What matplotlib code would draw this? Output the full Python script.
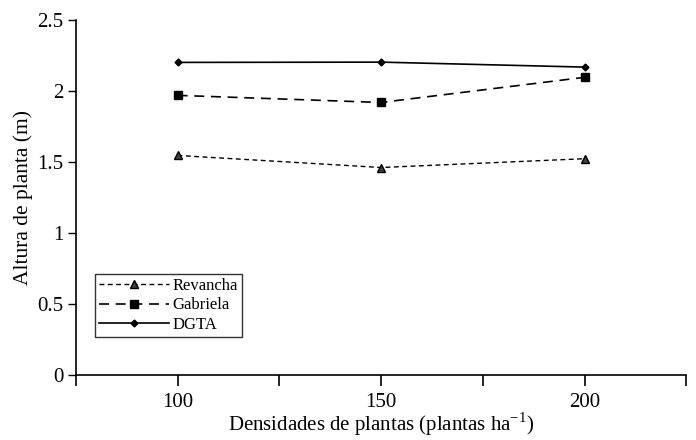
import numpy as np
import matplotlib.pyplot as plt
from matplotlib.ticker import MultipleLocator

plt.rcParams['font.family'] = ['Liberation Serif', 'DejaVu Serif']
plt.rcParams['mathtext.fontset'] = 'custom'
plt.rcParams['mathtext.rm'] = 'Liberation Serif'

densidades = [100, 150, 200]
revancha = [1.545, 1.460, 1.522]
gabriela = [1.968, 1.918, 2.095]
dgta = [2.200, 2.202, 2.167]

fig = plt.figure(figsize=(6.96, 4.40), dpi=100)
ax = fig.add_axes([0.109, 0.148, 0.877, 0.807])

ax.plot(densidades, revancha, color='black', lw=1.0, linestyle=(0, (3.5, 2.5)),
        marker='^', ms=5.5, mfc='#404040', mec='black', mew=1.0, label='Revancha')
ax.plot(densidades, gabriela, color='black', lw=1.2, linestyle=(0, (6, 4)),
        marker='s', ms=5.5, mfc='black', mec='black', label='Gabriela')
ax.plot(densidades, dgta, color='black', lw=1.2, linestyle='-',
        marker='D', ms=3.5, mfc='black', mec='black', label='DGTA')

ax.set_xlim(75, 225)
ax.set_ylim(0, 2.5)
ax.set_xticks([100, 150, 200])
ax.xaxis.set_minor_locator(MultipleLocator(25))
ax.set_yticks([0, 0.5, 1, 1.5, 2, 2.5])
ax.set_yticklabels(['0', '0.5', '1', '1.5', '2', '2.5'])

for s in ['top', 'right']:
    ax.spines[s].set_visible(False)
for s in ['left', 'bottom']:
    ax.spines[s].set_linewidth(1.2)

ax.tick_params(axis='x', which='both', direction='out', length=8, width=1.2, pad=5, labelsize=15)
ax.tick_params(axis='y', direction='out', length=6, width=1.0, pad=3, labelsize=15)

ax.set_xlabel(r'Densidades de plantas (plantas ha$^{\mathrm{-1}}$)', fontsize=15, labelpad=-1)
ax.set_ylabel('Altura de planta (m)', fontsize=15.5, labelpad=3)

leg = ax.legend(loc='lower left', bbox_to_anchor=(0.031, 0.107), fontsize=12,
                frameon=True, fancybox=False, edgecolor='black', handlelength=4.2,
                handletextpad=0.2, borderpad=0.25, labelspacing=0.2, borderaxespad=0)
leg.get_frame().set_linewidth(1.0)

fig.savefig('out.png', dpi=100)
